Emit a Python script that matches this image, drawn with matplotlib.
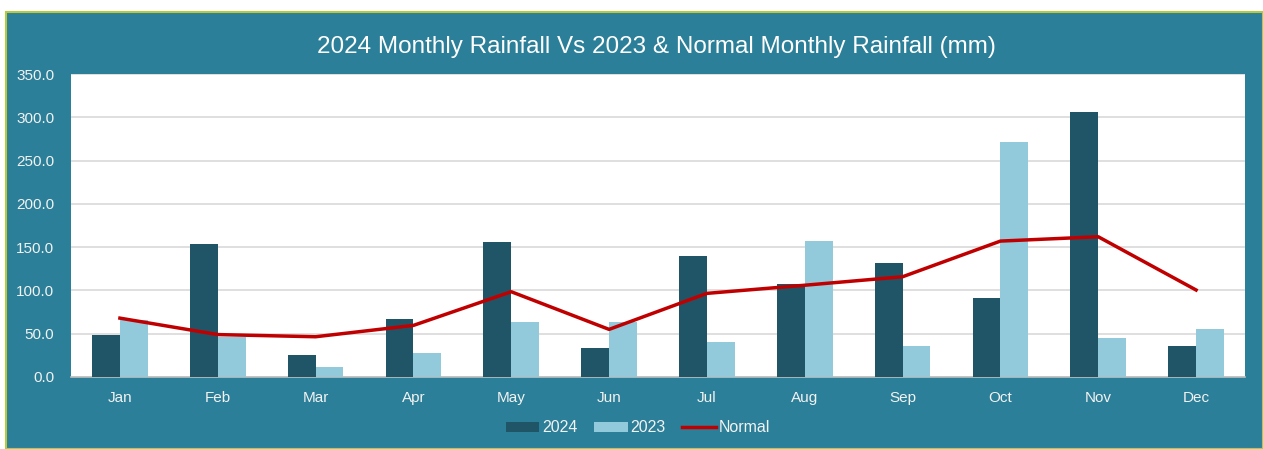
import matplotlib
matplotlib.use("Agg")
import matplotlib.pyplot as plt
from matplotlib.patches import Rectangle, Patch
from matplotlib.lines import Line2D
import numpy as np

plt.rcParams['font.family'] = ['Liberation Sans', 'DejaVu Sans']

# Monthly rainfall (mm)
months = ['Jan', 'Feb', 'Mar', 'Apr', 'May', 'Jun',
          'Jul', 'Aug', 'Sep', 'Oct', 'Nov', 'Dec']
rain_2024 = [48.5, 153.6, 25.4, 67.4, 156.3, 33.5,
             139.7, 107.0, 131.3, 90.9, 306.0, 36.2]
rain_2023 = [66.0, 46.5, 11.9, 27.3, 63.5, 63.9,
             40.4, 157.4, 36.2, 271.7, 44.7, 55.8]
normal = [68.0, 49.0, 46.5, 59.6, 98.5, 55.0,
          96.6, 106.0, 115.8, 157.0, 162.0, 100.5]
yticks = [0, 50, 100, 150, 200, 250, 300, 350]

teal = '#2b7f98'
dark = '#1f5566'
light = '#92cadc'
red = '#c00000'
txt = '#f2f2f2'

W, H = 1263, 449
fig = plt.figure(figsize=(W / 100, H / 100), dpi=100)
fig.patch.set_facecolor('white')

# teal panel with the thin green edge, kept behind the axes
fig.patches.append(Rectangle((6 / W, 0), 1 - 6 / W, (H - 12) / H,
                             transform=fig.transFigure, facecolor=teal,
                             edgecolor='#b7c93e', linewidth=1.5, zorder=-5))

ax = fig.add_axes([71 / W, (H - 377) / H, 1174 / W, 303 / H])
ax.set_facecolor('white')

x = np.arange(len(months))
bw = 0.285
ax.bar(x - bw / 2, rain_2024, bw, color=dark, zorder=3)
ax.bar(x + bw / 2, rain_2023, bw, color=light, zorder=3)
ax.plot(x, normal, color=red, linewidth=2.5, zorder=4)

ax.set_xlim(-0.5, len(months) - 0.5)
ax.set_ylim(0, 350)
ax.set_yticks(yticks)
ax.set_yticklabels([f'{v:.1f}' for v in yticks])
ax.set_xticks(x)
ax.set_xticklabels(months)
ax.yaxis.grid(True, color='#d9d9d9', linewidth=1.2, zorder=0)
ax.set_axisbelow(True)
ax.tick_params(axis='both', length=0, labelsize=11, colors=txt)
ax.tick_params(axis='x', pad=10)
ax.tick_params(axis='y', pad=12)
for s in ['left', 'top', 'right']:
    ax.spines[s].set_visible(False)
ax.spines['bottom'].set_color('#bfbfbf')
ax.spines['bottom'].set_linewidth(1.2)

fig.text(656 / W, (H - 47) / H, '2024 Monthly Rainfall Vs 2023 & Normal Monthly Rainfall (mm)',
         ha='center', va='center', color='white', fontsize=17.5)

handles = [Patch(facecolor=dark, label='2024'),
           Patch(facecolor=light, label='2023'),
           Line2D([0], [0], color=red, linewidth=2.5, label='Normal')]
fig.legend(handles=handles, loc='center', bbox_to_anchor=(638 / W, (H - 428) / H),
           ncol=3, frameon=False, fontsize=11.5, labelcolor=txt,
           handlelength=2.1, handleheight=0.55, handletextpad=0.2,
           columnspacing=1.0)

fig.savefig('out.png', dpi=100, facecolor=fig.get_facecolor())
